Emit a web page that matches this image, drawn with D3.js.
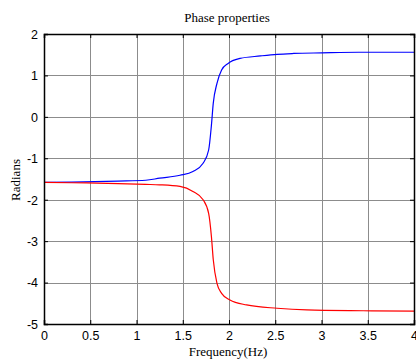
<!doctype html>
<html lang="en">
  <head>
    <meta charset="UTF-8" />
    <title>Phase properties</title>
    <style>
      body { margin: 0; background: #fff; }
      svg text { fill: #000; }
    </style>
  </head>
  <body>
    <div id="target"></div>
    <script src="https://d3js.org/d3.v7.min.js"></script>
    <script>
      /* global d3 */

      const xTicks = [0, 0.5, 1, 1.5, 2, 2.5, 3, 3.5, 4];
      const yTicks = [2, 1, 0, -1, -2, -3, -4, -5];

      // blue curve (frequency in Hz, phase in radians)
      const blueFreq = [0, 0.3, 0.8, 1.1, 1.25, 1.47, 1.61, 1.72, 1.78, 1.81, 1.83, 1.87, 1.92, 1.99, 2.12, 2.34, 2.52, 2.7, 3.0, 3.4, 4.0];
      const bluePhase = [-1.58, -1.575, -1.55, -1.53, -1.48, -1.41, -1.32, -1.12, -0.8, -0.2, 0.33, 0.81, 1.13, 1.29, 1.41, 1.47, 1.51, 1.53, 1.545, 1.56, 1.56];

      // red curve
      const redFreq = [0, 0.3, 0.8, 1.1, 1.25, 1.47, 1.61, 1.72, 1.78, 1.81, 1.83, 1.87, 1.92, 2.01, 2.19, 2.52, 2.84, 3.45, 4.0];
      const redPhase = [-1.58, -1.59, -1.61, -1.63, -1.64, -1.68, -1.8, -2.0, -2.33, -2.89, -3.45, -4.02, -4.26, -4.42, -4.54, -4.62, -4.66, -4.68, -4.69];

      const width = 416,
        height = 360;
      const margin = { left: 44, right: 2, top: 34, bottom: 36 };

      const svg = d3
        .select("#target")
        .append("svg")
        .attr("width", width)
        .attr("height", height)
        .attr("viewBox", [0, 0, width, height]);

      const xScale = d3
        .scaleLinear()
        .domain([0, 4])
        .range([margin.left, width - margin.right]);
      const yScale = d3
        .scaleLinear()
        .domain([-5, 2])
        .range([height - margin.bottom, margin.top]);

      // grid
      const grid = svg.append("g").attr("stroke", "#8c8c8c").attr("stroke-width", 1);
      grid.selectAll("line.gx")
        .data(xTicks.slice(1, -1))
        .join("line")
        .attr("x1", (d) => Math.round(xScale(d)) + 0.5)
        .attr("x2", (d) => Math.round(xScale(d)) + 0.5)
        .attr("y1", yScale(2))
        .attr("y2", yScale(-5));
      grid.selectAll("line.gy")
        .data(yTicks.slice(1, -1))
        .join("line")
        .attr("y1", (d) => Math.round(yScale(d)) + 0.5)
        .attr("y2", (d) => Math.round(yScale(d)) + 0.5)
        .attr("x1", xScale(0))
        .attr("x2", xScale(4));

      const line = d3.line().curve(d3.curveMonotoneX);
      svg.append("path")
        .attr("fill", "none")
        .attr("stroke", "#0000ff")
        .attr("stroke-width", 1.2)
        .attr("d", line(blueFreq.map((f, i) => [xScale(f), yScale(bluePhase[i])])));
      svg.append("path")
        .attr("fill", "none")
        .attr("stroke", "#ff0000")
        .attr("stroke-width", 1.2)
        .attr("d", line(redFreq.map((f, i) => [xScale(f), yScale(redPhase[i])])));

      // axes, MATLAB style box with inward ticks
      const fmt = (d) => String(d);
      const xAxis = svg.append("g")
        .attr("transform", `translate(0, ${yScale(-5)})`)
        .call(d3.axisBottom(xScale).tickValues(xTicks).tickSize(-4).tickPadding(5).tickFormat(fmt));
      const yAxis = svg.append("g")
        .attr("transform", `translate(${xScale(0)}, 0)`)
        .call(d3.axisLeft(yScale).tickValues(yTicks).tickSize(-4).tickPadding(6).tickFormat(fmt));
      svg.append("g")
        .attr("transform", `translate(0, ${yScale(2)})`)
        .call(d3.axisTop(xScale).tickValues(xTicks).tickSize(-4).tickFormat(""));
      svg.append("g")
        .attr("transform", `translate(${xScale(4)}, 0)`)
        .call(d3.axisRight(yScale).tickValues(yTicks).tickSize(-4).tickFormat(""));

      svg.selectAll(".domain").attr("stroke", "#000").attr("stroke-width", 1.5);
      svg.selectAll(".tick line").attr("stroke", "#000");
      svg.selectAll(".tick text")
        .style("font-family", "Liberation Sans, Arial, sans-serif")
        .style("font-size", "12.5px");
      xAxis.selectAll(".tick text").attr("dy", "0.9em");
      yAxis.selectAll(".tick text").attr("dy", "0.35em");

      svg.append("text")
        .attr("x", 227)
        .attr("y", 22)
        .attr("text-anchor", "middle")
        .style("font-family", "Liberation Serif, Times New Roman, serif")
        .style("font-size", "13px")
        .text("Phase properties");

      svg.append("text")
        .attr("x", 228)
        .attr("y", 356)
        .attr("text-anchor", "middle")
        .style("font-family", "Liberation Serif, Times New Roman, serif")
        .style("font-size", "13px")
        .text("Frequency(Hz)");

      svg.append("text")
        .attr("transform", "translate(20, 180) rotate(-90)")
        .attr("text-anchor", "middle")
        .style("font-family", "Liberation Serif, Times New Roman, serif")
        .style("font-size", "13px")
        .text("Radians");
    </script>
  </body>
</html>
